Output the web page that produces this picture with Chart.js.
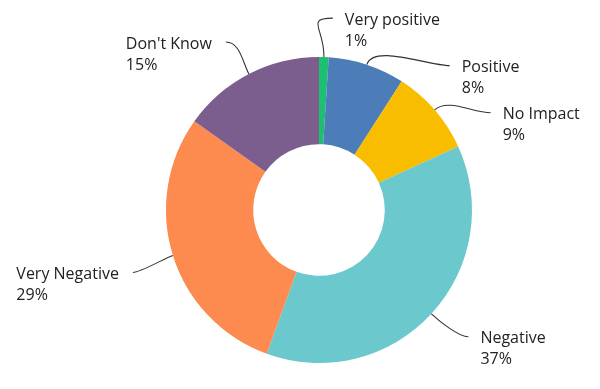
<!DOCTYPE html>
<html>
<head>
<meta charset="utf-8">
<script src="https://cdn.jsdelivr.net/npm/chart.js@4"></script>
<style>
    html, body { margin: 0; padding: 0; background: #fff; }
    #wrap { width: 600px; height: 389px; }
</style>
</head>
<body>
<div id="wrap"><canvas id="impactChart"></canvas></div>
<script>

const categories = ['Very positive', 'Positive', 'No Impact', 'Negative', 'Very Negative', "Don't Know"];
const shares = [1, 8, 9, 37, 29, 15];
const sliceColors = ['#1dbf73', '#4d7db8', '#f9bd00', '#6bc9cd', '#fd8a4e', '#7b5d8e'];

// where each leader line ends, relative to the slice mid point on the rim
const leaderEnds = [
    { dx: 9, dy: -39, pull: 28 },
    { dx: 83, dy: 1, pull: 22 },
    { dx: 56, dy: 3, pull: 18 },
    { dx: 37, dy: 23, pull: 10 },
    { dx: -40, dy: 17, pull: 8 },
    { dx: -23, dy: -32, pull: 14 }
];

const outsideLabels = {
    id: 'outsideLabels',
    afterDatasetsDraw(chart) {
        const ctx = chart.ctx;
        const arcs = chart.getDatasetMeta(0).data;
        ctx.save();
        ctx.font = '500 16px "Open Sans"';
        ctx.textBaseline = 'middle';
        arcs.forEach(function (arc, i) {
            const p = arc.getProps(['x', 'y', 'startAngle', 'endAngle', 'outerRadius'], true);
            const mid = (p.startAngle + p.endAngle) / 2;
            const ax = p.x + Math.cos(mid) * p.outerRadius;
            const ay = p.y + Math.sin(mid) * p.outerRadius;
            const le = leaderEnds[i];
            const ex = ax + le.dx;
            const ey = ay + le.dy;
            const right = le.dx >= 0;

            ctx.beginPath();
            ctx.strokeStyle = '#333';
            ctx.lineWidth = 1.1;
            ctx.moveTo(ax, ay);
            ctx.bezierCurveTo(
                ax + Math.cos(mid) * le.pull, ay + Math.sin(mid) * le.pull,
                ex + (right ? -le.pull : le.pull), ey,
                ex, ey
            );
            ctx.stroke();

            const line1 = categories[i];
            const line2 = Math.round(shares[i]) + '%';
            const w = Math.max(ctx.measureText(line1).width, ctx.measureText(line2).width);
            const tx = right ? ex + 12 : ex - 14 - w;
            const ty = ey + 2;
            ctx.fillStyle = '#222';
            ctx.textAlign = 'left';
            ctx.fillText(line1, tx, ty);
            ctx.fillText(line2, tx, ty + 21);
        });
        ctx.restore();
    }
};

new Chart(document.getElementById('impactChart'), {
    type: 'doughnut',
    data: {
        labels: categories,
        datasets: [{
            data: shares,
            backgroundColor: sliceColors,
            borderWidth: 0
        }]
    },
    options: {
        responsive: true,
        maintainAspectRatio: false,
        animation: false,
        cutout: '43%',
        layout: {
            padding: { left: 166, right: 128, top: 57, bottom: 26 }
        },
        plugins: {
            legend: { display: false },
            tooltip: { enabled: false }
        }
    },
    plugins: [outsideLabels]
});

</script>
</body>
</html>
